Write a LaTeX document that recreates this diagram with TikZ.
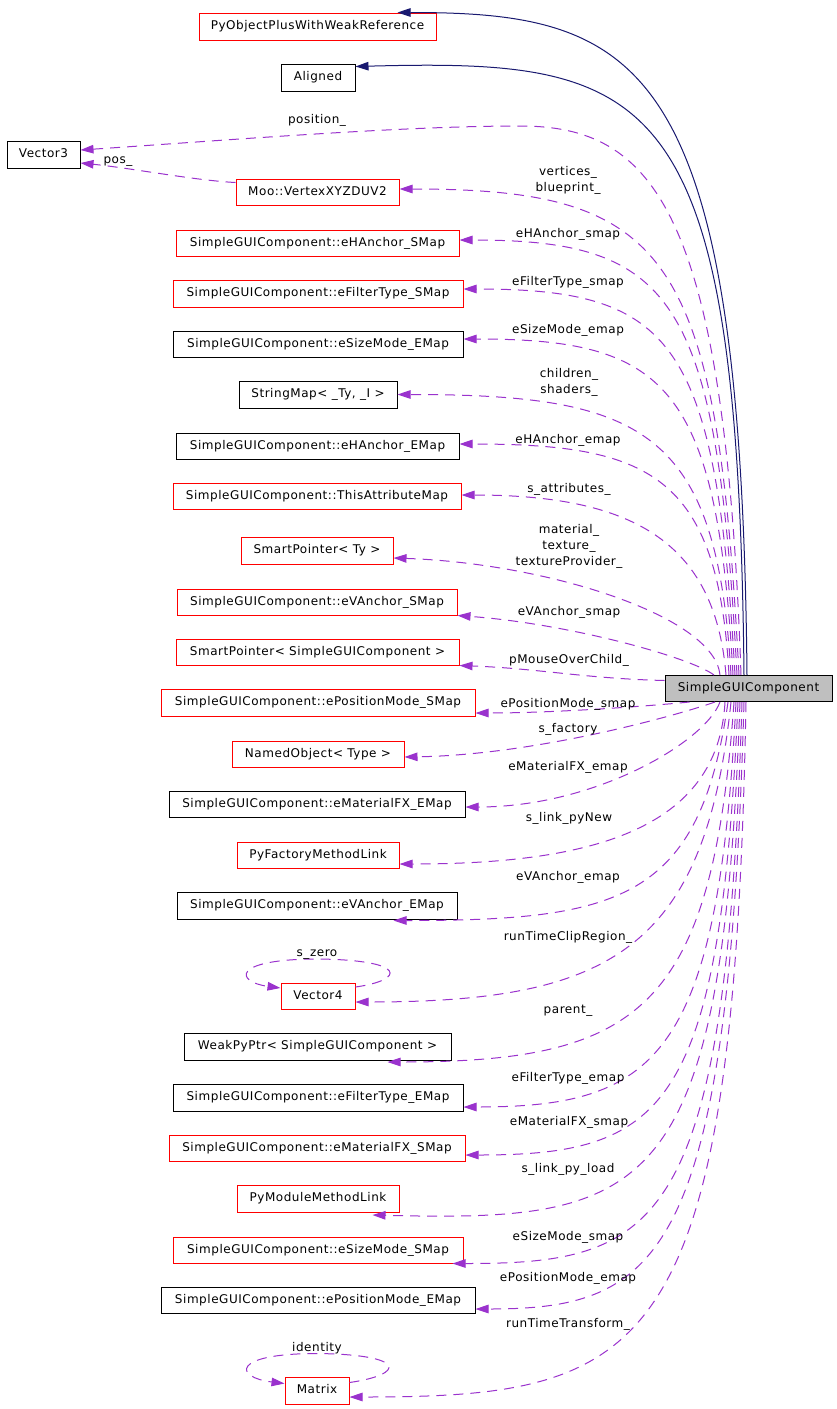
\documentclass[tikz,border=0pt]{standalone}
\usepackage{fontspec}
\setmainfont{DejaVu Sans}[LetterSpace=4.5]
\usetikzlibrary{arrows.meta,calc}
\definecolor{gvred}{RGB}{255,0,0}
\definecolor{gvnavy}{RGB}{25,25,112}
\definecolor{gvpurple}{RGB}{154,50,205}
\definecolor{gvgray}{RGB}{191,191,191}
\tikzset{
  gvbox/.style={draw=black, line width=1pt, inner sep=0pt, minimum height=27pt, text height=9pt, text depth=2.5pt},
  rbox/.style={gvbox, draw=gvred},
  kbox/.style={gvbox},
  usage/.style={draw=gvpurple, line width=1pt, dash pattern=on 10pt off 7pt, -{Triangle[length=13pt,width=8.5pt]}},
  inh/.style={draw=gvnavy, line width=1pt, -{Triangle[length=13pt,width=8.5pt]}},
  lbl/.style={inner sep=0pt, text height=9pt, text depth=2.5pt},
  lbm/.style={inner sep=0pt, align=center},
}
\begin{document}
\begin{tikzpicture}[x=1pt,y=-1pt,font=\fontsize{12}{16}\selectfont]
\fill[white] (0,0) rectangle (837,1409);
\useasboundingbox (0,0) rectangle (837,1409);
% nodes
\node[rbox, minimum width=237pt] (pyo) at (317.5,26.5) {PyObjectPlusWithWeakReference};
\node[kbox, minimum width=74pt] (aligned) at (318,77.5) {Aligned};
\node[kbox, minimum width=73pt] (v3) at (43.5,154.5) {Vector3};
\node[rbox, minimum width=163pt, minimum height=26pt] (moo) at (317.5,192) {Moo::VertexXYZDUV2};
\node[rbox, minimum width=283pt, minimum height=26pt] (ehs) at (317.5,243) {SimpleGUIComponent::eHAnchor\_SMap};
\node[rbox, minimum width=290pt] (efs) at (318,293.5) {SimpleGUIComponent::eFilterType\_SMap};
\node[kbox, minimum width=290pt, minimum height=26pt] (sme) at (318,344) {SimpleGUIComponent::eSizeMode\_EMap};
\node[kbox, minimum width=158pt] (strmap) at (318,394.5) {StringMap< \_Ty, \_I >};
\node[kbox, minimum width=283pt, minimum height=26pt] (ehe) at (317.5,446) {SimpleGUIComponent::eHAnchor\_EMap};
\node[rbox, minimum width=288pt, minimum height=26pt] (tam) at (317,496) {SimpleGUIComponent::ThisAttributeMap};
\node[rbox, minimum width=152pt] (spty) at (317,550.5) {SmartPointer< Ty >};
\node[rbox, minimum width=280pt, minimum height=26pt] (evs) at (317,602) {SimpleGUIComponent::eVAnchor\_SMap};
\node[rbox, minimum width=283pt, minimum height=26pt] (spsgc) at (317.5,652) {SmartPointer< SimpleGUIComponent >};
\node[rbox, minimum width=314pt] (pms) at (318,702.5) {SimpleGUIComponent::ePositionMode\_SMap};
\node[rbox, minimum width=172pt, minimum height=26pt] (named) at (318,754) {NamedObject< Type >};
\node[kbox, minimum width=296pt, minimum height=26pt] (mfe) at (317,804) {SimpleGUIComponent::eMaterialFX\_EMap};
\node[rbox, minimum width=162pt, minimum height=26pt] (pyfac) at (318,855) {PyFactoryMethodLink};
\node[kbox, minimum width=280pt] (eve) at (317,905.5) {SimpleGUIComponent::eVAnchor\_EMap};
\node[rbox, minimum width=74pt, minimum height=26pt] (v4) at (318,996.5) {Vector4};
\node[kbox, minimum width=267pt] (weak) at (317.5,1046.5) {WeakPyPtr< SimpleGUIComponent >};
\node[kbox, minimum width=290pt] (fte) at (318,1097.5) {SimpleGUIComponent::eFilterType\_EMap};
\node[rbox, minimum width=296pt, minimum height=26pt] (mfs) at (317,1148) {SimpleGUIComponent::eMaterialFX\_SMap};
\node[rbox, minimum width=162pt] (pymod) at (318,1198.5) {PyModuleMethodLink};
\node[rbox, minimum width=290pt, minimum height=26pt] (sms) at (318,1250) {SimpleGUIComponent::eSizeMode\_SMap};
\node[kbox, minimum width=314pt, minimum height=26pt] (pme) at (318,1300) {SimpleGUIComponent::ePositionMode\_EMap};
\node[rbox, minimum width=64pt] (matrix) at (317,1390.5) {Matrix};
\node[kbox, fill=gvgray, minimum width=167pt, minimum height=26pt] (sgc) at (748.5,688.5) {SimpleGUIComponent};
% inheritance
\draw[inh] ($(sgc.north)+(-1.5,0)$) .. controls +(-6,-615) and +(244.5,0) .. ($(pyo.north east)+(-39,0)$);
\draw[inh] ($(sgc.north)+(-4.5,0)$) .. controls +(-6,-590) and +(300.5,-8) .. ($(aligned.north east)+(0,3)$);
% usage, upper
\coordinate (posmid) at (520,126);
\draw[usage] ($(sgc.north)+(-7.5,0)$) .. controls +(-16,-467) and +(133,0) .. (posmid) .. controls +(-120,0) and +(150,-10) .. ($(v3.east)+(0,-4.5)$);
\draw[usage] ($(moo.north west)+(0,4)$) .. controls +(-40,-2) and +(50,5) .. ($(v3.east)+(0,8.5)$);
\draw[usage] ($(sgc.north)+(-9.5,0)$) .. controls +(-22,-423) and +(270.5,0) .. ($(moo.east)+(0,-3)$);
\draw[usage] ($(sgc.north)+(-11.5,0)$) .. controls +(-20,-378) and +(215.5,0) .. ($(ehs.east)+(0,-3)$);
\draw[usage] ($(sgc.north)+(-13.5,0)$) .. controls +(-19,-336) and +(209.5,0) .. ($(efs.east)+(0,-4.5)$);
\draw[usage] ($(sgc.north)+(-15.5,0)$) .. controls +(-16,-292) and +(201.5,0) .. ($(sme.east)+(0,-5)$);
\draw[usage] ($(sgc.north)+(-17.5,0)$) .. controls +(-14,-245) and +(246.5,0) .. (strmap.east);
\draw[usage] ($(sgc.north)+(-19.5,0)$) .. controls +(-11,-201) and +(189.5,0) .. ($(ehe.east)+(0,-2)$);
\draw[usage] ($(sgc.north)+(-22.5,0)$) .. controls +(-11,-135) and +(168.5,0) .. ($(tam.east)+(0,-1)$);
\draw[usage] ($(sgc.north)+(-28.5,0)$) .. controls +(-6,-60) and +(150,5) .. ($(spty.east)+(0,7.5)$);
\draw[usage] ($(sgc.north)+(-34.5,0)$) .. controls +(-24,-18) and +(110,8) .. (evs.south east);
\draw[usage] ($(sgc.west)+(0,-8)$) .. controls +(-80,-2) and +(80,3) .. (spsgc.south east);
\draw[usage] ($(sgc.south west)+(25,0)$) .. controls +(-40,4) and +(80,0) .. ($(pms.east)+(0,10.5)$);
% usage, lower
\draw[usage] ($(sgc.south)+(-33.5,0)$) .. controls +(-40,14) and +(130,-2) .. ($(named.east)+(0,3)$);
\draw[usage] ($(sgc.south)+(-28.5,0)$) .. controls +(-15,40) and +(130,0) .. ($(mfe.east)+(0,3)$);
\draw[usage] ($(sgc.south)+(-23.5,0)$) .. controls +(-7,128) and +(190.5,0) .. ($(pyfac.east)+(0,9)$);
\draw[usage] ($(sgc.south)+(-20.5,0)$) .. controls +(-28,198) and +(226.5,0) .. ($(eve.south east)+(-64,1)$);
\draw[usage] ($(sgc.south)+(-17.5,0)$) .. controls +(-26,248) and +(254.5,0) .. ($(v4.east)+(0,5.5)$);
\draw[usage] ($(sgc.south)+(-14.5,0)$) .. controls +(-22,308) and +(252.5,0) .. ($(weak.south east)+(-64,1.5)$);
\draw[usage] ($(sgc.south)+(-12.5,0)$) .. controls +(-18,358) and +(191.5,0) .. ($(fte.east)+(0,9.5)$);
\draw[usage] ($(sgc.south)+(-10.5,0)$) .. controls +(-18,408) and +(199.5,0) .. ($(mfs.east)+(0,7)$);
\draw[usage] ($(sgc.south)+(-8.5,0)$) .. controls +(-18,498) and +(277.5,7) .. ($(pymod.south east)+(-27,2.5)$);
\draw[usage] ($(sgc.south)+(-6.5,0)$) .. controls +(-16,528) and +(207.5,0) .. ($(sms.south east)+(-11,0)$);
\draw[usage] ($(sgc.south)+(-4.5,0)$) .. controls +(-16,558) and +(184.5,0) .. ($(pme.east)+(0,9)$);
\draw[usage] ($(sgc.south)+(-2.5,0)$) .. controls +(-12,658) and +(300.5,0) .. ($(matrix.east)+(0,6.5)$);
% self loops
\coordinate (v4top) at ($(v4.north)+(0,-24)$);
\draw[usage] ($(v4.north east)+(0,4)$) .. controls +(50,-7) and +(90,1) .. (v4top) .. controls +(-88,0) and +(-45,-6) .. ($(v4.north west)+(0,5)$);
\coordinate (mxtop) at ($(matrix.north)+(0,-23)$);
\draw[usage] ($(matrix.north east)+(0,6)$) .. controls +(56,-8) and +(91,1) .. (mxtop) .. controls +(-87,0) and +(-50,-6) .. ($(matrix.north west)+(0,7)$);
% labels
\node[lbl] (lpos) at (317,120) {position\_};
\node[lbl] (lpos2) at (118,160) {pos\_};
\node[lbm] (lvert) at (568,180) {vertices\_\\blueprint\_};
\node[lbl] (lehs) at (568,234) {eHAnchor\_smap};
\node[lbl] (lefs) at (568,282) {eFilterType\_smap};
\node[lbl] (lsme) at (568,330) {eSizeMode\_emap};
\node[lbm] (lchild) at (569,382) {children\_\\shaders\_};
\node[lbl] (lehe) at (568,440) {eHAnchor\_emap};
\node[lbl] (ltam) at (569,489) {s\_attributes\_};
\node[lbm] (lmat) at (569,546) {material\_\\texture\_\\textureProvider\_};
\node[lbl] (levs) at (569,612) {eVAnchor\_smap};
\node[lbl] (lmouse) at (569,660) {pMouseOverChild\_};
\node[lbl] (lpms) at (568,704) {ePositionMode\_smap};
\node[lbl] (lfac) at (568,729) {s\_factory};
\node[lbl] (lmfe) at (568,767) {eMaterialFX\_emap};
\node[lbl] (lnew) at (569,818) {s\_link\_pyNew};
\node[lbl] (leve) at (568,877) {eVAnchor\_emap};
\node[lbl] (lclip) at (568,937) {runTimeClipRegion\_};
\node[lbl] (lzero) at (317,953) {s\_zero};
\node[lbl] (lparent) at (568,1010) {parent\_};
\node[lbl] (lfte) at (568,1078) {eFilterType\_emap};
\node[lbl] (lmfs) at (569,1122) {eMaterialFX\_smap};
\node[lbl] (lload) at (568,1169) {s\_link\_py\_load};
\node[lbl] (lsms) at (568,1237) {eSizeMode\_smap};
\node[lbl] (lpme) at (568,1278) {ePositionMode\_emap};
\node[lbl] (ltrans) at (568,1324) {runTimeTransform\_};
\node[lbl] (lident) at (317,1348) {identity};
\end{tikzpicture}
\end{document}
